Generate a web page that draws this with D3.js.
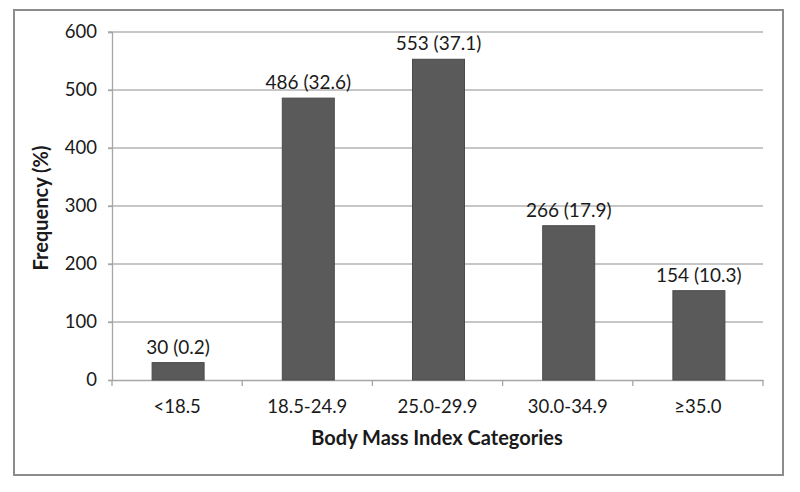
<!DOCTYPE html>
<html>
<head>
<meta charset="utf-8">
<script src="https://cdn.jsdelivr.net/npm/d3@7"></script>
<style>
  body { margin: 0; background: white; }
  text { font-family: Lato, "Open Sans", sans-serif; fill: #1a1a1a; }
</style>
</head>
<body>
<div id="container"></div>
<script>
const categories = ['<18.5', '18.5-24.9', '25.0-29.9', '30.0-34.9', '≥35.0'];
const counts = [30, 486, 553, 266, 154];
const percents = ['0.2', '32.6', '37.1', '17.9', '10.3'];
const yTicks = [0, 100, 200, 300, 400, 500, 600];

const WIDTH = 800;
const HEIGHT = 492;
const margin = { left: 112, right: 37, top: 32, bottom: 112 };

const svg = d3.select('#container')
  .append('svg')
  .attr('width', WIDTH)
  .attr('height', HEIGHT);

// outer chart frame
svg.append('rect')
  .attr('x', 14)
  .attr('y', 10)
  .attr('width', 769)
  .attr('height', 465)
  .style('fill', 'white')
  .style('stroke', '#8c8c8c')
  .style('stroke-width', 2);

const x = d3.scaleBand()
  .domain(categories)
  .range([margin.left, WIDTH - margin.right]);

const y = d3.scaleLinear()
  .domain([0, 600])
  .range([380, 32]);

const g = svg.append('g');

// gridlines
g.selectAll('line.grid')
  .data(yTicks.filter(d => d > 0))
  .enter()
  .append('line')
  .attr('class', 'grid')
  .attr('x1', margin.left - 4)
  .attr('x2', WIDTH - margin.right)
  .attr('y1', d => y(d))
  .attr('y2', d => y(d))
  .style('stroke', '#b3b3b3')
  .style('stroke-width', 1.3);

// y axis
const yAxis = g.append('g')
  .attr('transform', `translate(${margin.left},0)`)
  .call(d3.axisLeft(y).tickValues(yTicks).tickSize(4).tickPadding(11));

// x axis
const xAxis = g.append('g')
  .attr('transform', `translate(0,${y(0)})`)
  .call(d3.axisBottom(x).tickSize(0).tickPadding(20));

xAxis.selectAll('.tick line').remove();
const bounds = categories.map(c => x(c)).concat([x.range()[1]]);
xAxis.selectAll('line.sep')
  .data(bounds)
  .enter()
  .append('line')
  .attr('class', 'sep')
  .attr('x1', d => d)
  .attr('x2', d => d)
  .attr('y1', 0)
  .attr('y2', 6)
  .style('stroke', '#a6a6a6')
  .style('stroke-width', 1.3);

[yAxis, xAxis].forEach(ax => {
  ax.select('.domain').style('stroke', '#a6a6a6').style('stroke-width', 1.3);
  ax.selectAll('.tick line').style('stroke', '#a6a6a6').style('stroke-width', 1.3);
  ax.selectAll('.tick text')
    .style('font-family', 'Lato, sans-serif')
    .style('font-size', '18.5px')
    .style('fill', '#1a1a1a');
});

// bars
const barWidth = 52;
g.selectAll('rect.bar')
  .data(counts)
  .enter()
  .append('rect')
  .attr('class', 'bar')
  .attr('x', (d, i) => x(categories[i]) + x.bandwidth() / 2 - barWidth / 2 + 1)
  .attr('y', d => y(d))
  .attr('width', barWidth)
  .attr('height', d => y(0) - y(d))
  .style('fill', '#5a5a5a')
  .style('stroke', '#4a4a4a')
  .style('stroke-width', 1);

// value labels
g.selectAll('text.value')
  .data(counts)
  .enter()
  .append('text')
  .attr('class', 'value')
  .attr('x', (d, i) => x(categories[i]) + x.bandwidth() / 2 + 1)
  .attr('y', d => y(d) - 9)
  .attr('text-anchor', 'middle')
  .style('font-size', '19px')
  .text((d, i) => `${d} (${percents[i]})`);

// axis titles
svg.append('text')
  .attr('x', 437)
  .attr('y', 445)
  .attr('text-anchor', 'middle')
  .style('font-size', '20px')
  .style('font-weight', 'bold')
  .text('Body Mass Index Categories');

svg.append('text')
  .attr('transform', `translate(48,${y(300) + 2}) rotate(-90)`)
  .attr('text-anchor', 'middle')
  .style('font-size', '20px')
  .style('font-weight', 'bold')
  .text('Frequency (%)');
</script>
</body>
</html>
